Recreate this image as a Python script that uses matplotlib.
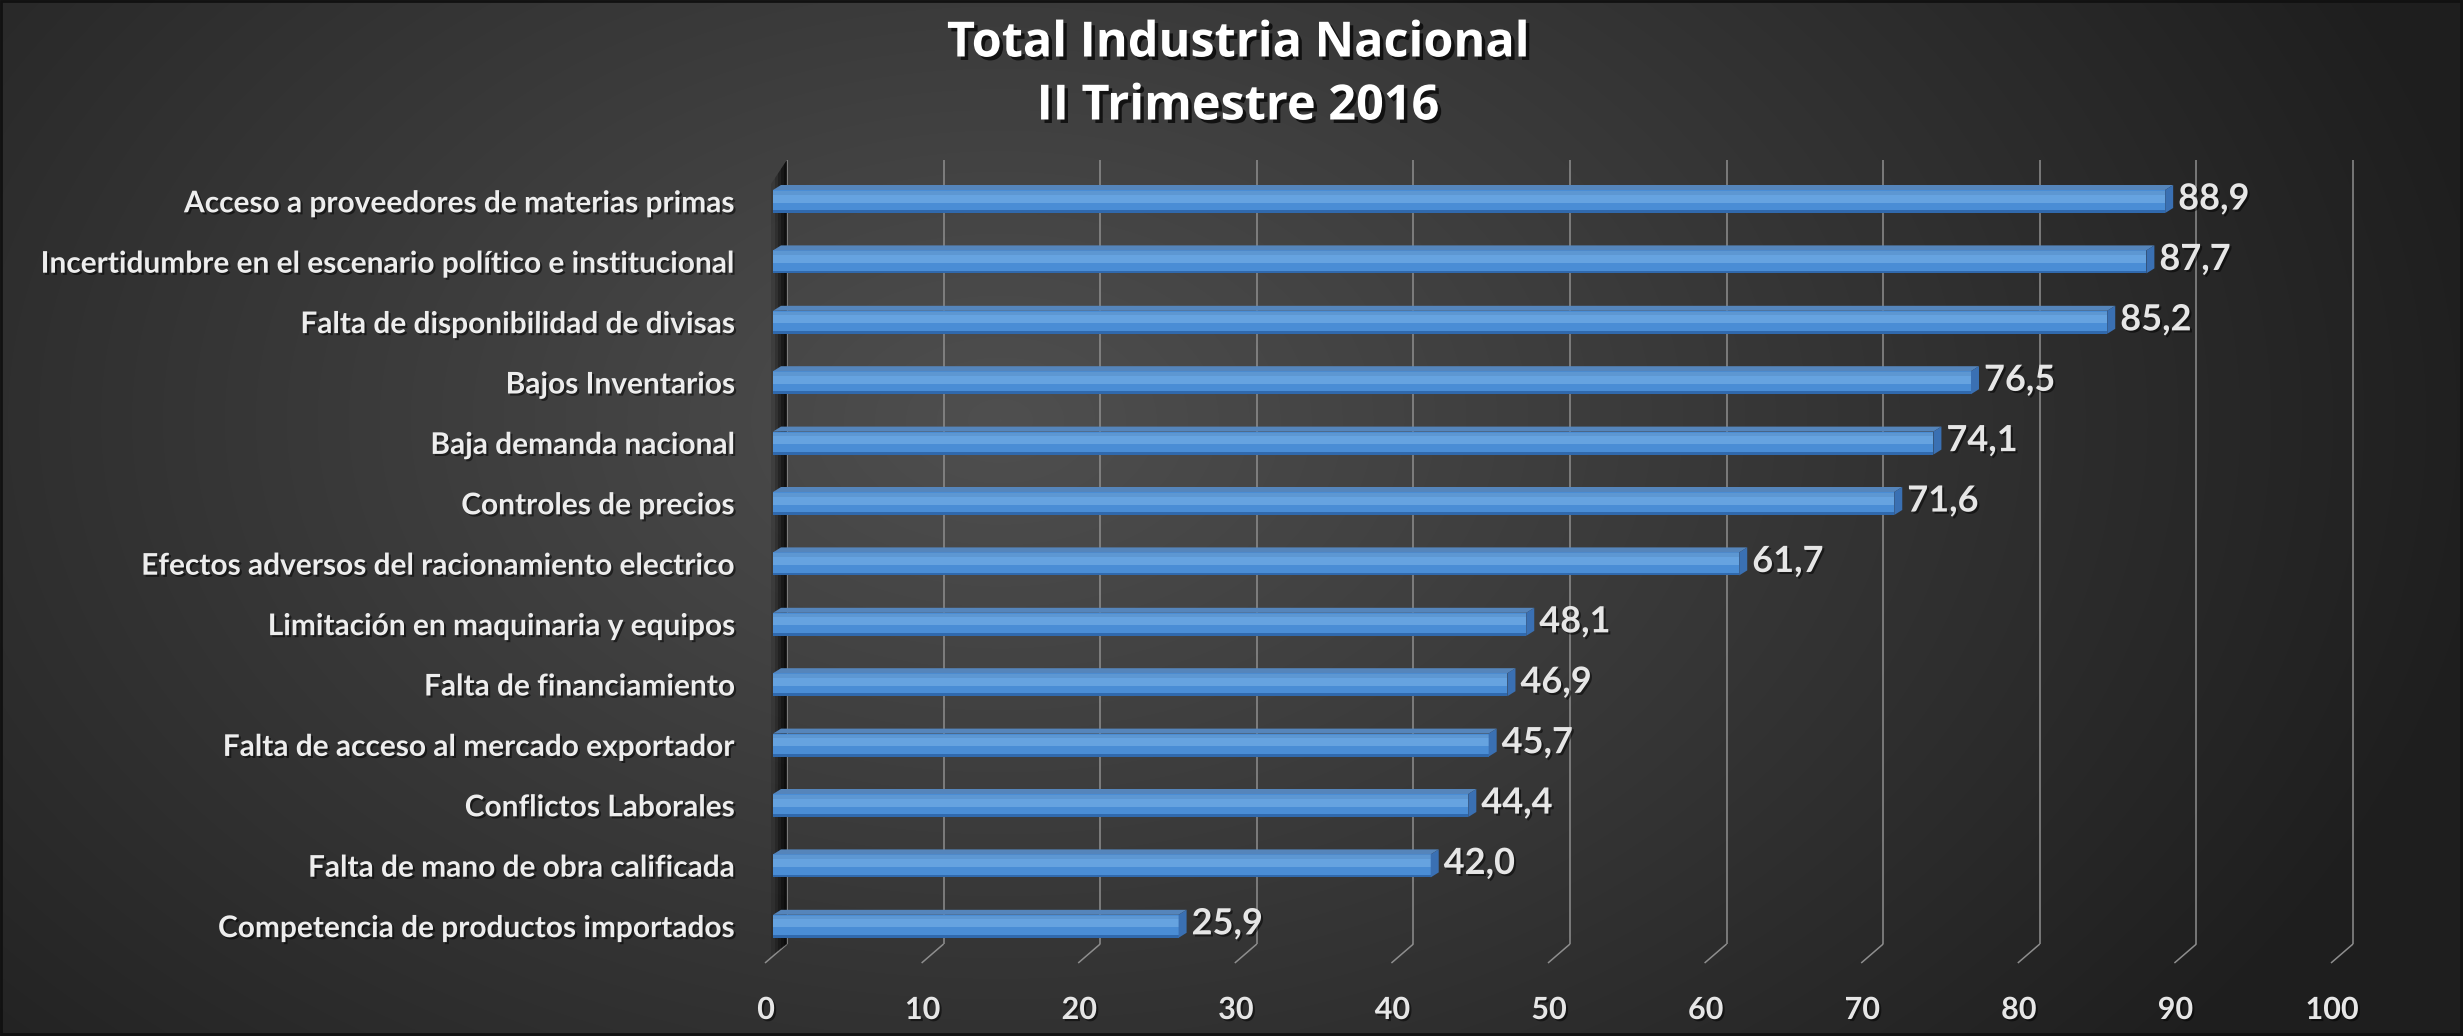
import numpy as np
import matplotlib
matplotlib.use('Agg')
import matplotlib.pyplot as plt
from matplotlib.patches import Polygon
import matplotlib.patheffects as pe

# data
categories = [
    'Acceso a proveedores de materias primas',
    'Incertidumbre en el escenario político e institucional',
    'Falta de disponibilidad de divisas',
    'Bajos Inventarios',
    'Baja demanda nacional',
    'Controles de precios',
    'Efectos adversos del racionamiento electrico',
    'Limitación en maquinaria y equipos',
    'Falta de financiamiento',
    'Falta de acceso al mercado exportador',
    'Conflictos Laborales',
    'Falta de mano de obra calificada',
    'Competencia de productos importados',
]
values = [88.9, 87.7, 85.2, 76.5, 74.1, 71.6, 61.7, 48.1, 46.9, 45.7, 44.4, 42.0, 25.9]
ticks = [0, 10, 20, 30, 40, 50, 60, 70, 80, 90, 100]
title_lines = ['Total Industria Nacional', 'II Trimestre 2016']

plt.rcParams['font.family'] = ['Lato', 'DejaVu Sans']

W, H = 2463, 1036
fig = plt.figure(figsize=(W / 100, H / 100), dpi=100)

# dark radial background
bg = fig.add_axes([0, 0, 1, 1])
yy, xx = np.mgrid[0:H, 0:W]
r = np.sqrt(((xx - 1000) / 1500) ** 2 + ((yy - 420) / 1000) ** 2)
shade = 0.31 - 0.19 * np.clip(r, 0, 1)
bg.imshow(np.dstack([shade] * 3), aspect='auto', extent=(0, W, H, 0))
bg.set_xlim(0, W)
bg.set_ylim(H, 0)
bg.axis('off')
bg.add_patch(plt.Rectangle((1, 1), W - 3, H - 3, fill=False, ec='#111111', lw=2))

# main axes, pixel geometry of the 3d-ish plot
px_x = 15.66   # px per value unit
px_y = 60.4    # px per category
x0_px, y0_px = 773, 201.5
xlim = (-2, 104)
ytop_px, ybot_px = 140, 1030
ylim = ((ybot_px - y0_px) / px_y, (ytop_px - y0_px) / px_y)
ax = fig.add_axes([(x0_px + xlim[0] * px_x) / W, (H - ybot_px) / H,
                   (xlim[1] - xlim[0]) * px_x / W, (ybot_px - ytop_px) / H])
ax.set_xlim(*xlim)
ax.set_ylim(*ylim)
ax.axis('off')
ax.patch.set_alpha(0)

ux = 1 / px_x
uy = 1 / px_y
back = 14 * ux
grid_top = (160 - y0_px) / px_y
grid_bot = 12 + (944 - 926.3) / px_y
gc = '#8e8e8e'

# back wall gridlines + floor diagonals
tk = np.array(ticks, dtype=float)
ax.vlines(tk + back, grid_top, grid_bot, color=gc, lw=1.1, zorder=1)
for t in tk:
    ax.plot([t + back, t + back - 22 * ux], [grid_bot, grid_bot + 19 * uy],
            color=gc, lw=1.1, zorder=1, solid_capstyle='butt')

# left wall shadow, soft gradient
for k, a in zip([16, 12, 9, 6, 3], [0.12, 0.18, 0.25, 0.3, 0.35]):
    ax.add_patch(Polygon([(back, grid_top), (back, grid_bot),
                          (back - k * ux, grid_bot + k * 0.8 * uy),
                          (back - k * ux, grid_top + k * 1.5 * uy)], closed=True,
                         fc='black', ec='none', alpha=a, zorder=2))

# bars
y = np.arange(len(values))
vals = np.array(values)
fh = 23 * uy
dx, dy = 8 * ux, 5 * uy
ax.barh(y, vals, height=fh, color='#4a8dd5', zorder=3)
ax.barh(y - fh * 0.2, vals, height=fh * 0.5, color='#66a3e0', zorder=4)
ax.barh(y - fh * 0.38, vals, height=fh * 0.16, color='#5d97d2', zorder=4)
ax.barh(y + fh * 0.44, vals, height=fh * 0.12, color='#3069ad', zorder=4)
for i, v in enumerate(vals):
    yt, yb = i - fh / 2, i + fh / 2
    ax.add_patch(Polygon([(0, yt), (v, yt), (v + dx, yt - dy), (dx, yt - dy)],
                         closed=True, fc='#5585bb', ec='none', zorder=5))
    ax.add_patch(Polygon([(v, yt), (v + dx, yt - dy), (v + dx, yb - dy), (v, yb)],
                         closed=True, fc='#3a70b3', ec='none', zorder=5))

shadow = [pe.withSimplePatchShadow(offset=(1.5, -1.5), shadow_rgbFace='black', alpha=0.5)]

# value labels
for i, v in enumerate(vals):
    ax.text(v + dx + 5 * ux, i - 0.04, f'{v:.1f}'.replace('.', ','), ha='left', va='center',
            fontsize=26, fontweight='bold', color='#e6e6e6', zorder=6, path_effects=shadow)

# category labels
for i, c in enumerate(categories):
    ax.text((735 - x0_px) * ux, i + 0.03, c, ha='right', va='center', fontsize=21.5,
            fontweight='bold', color='#ededed', clip_on=False, path_effects=shadow)

# x tick labels
tick_y = 12 + (1010 - 926.3) / px_y
for t in ticks:
    ax.text(t - 7 * ux, tick_y, str(t), ha='center', va='center', fontsize=22,
            fontweight='bold', color='#e6e6e6', clip_on=False, path_effects=shadow)

# title
title_shadow = [pe.withSimplePatchShadow(offset=(2.5, -2.5), shadow_rgbFace='black', alpha=0.7)]
for line, ypx in zip(title_lines, [44, 107]):
    fig.text(1238 / W, 1 - ypx / H, line, ha='center', va='center', fontsize=35,
             fontweight='bold', color='white', family=['Open Sans', 'DejaVu Sans'],
             path_effects=title_shadow)

fig.savefig('out.png', dpi=100)
